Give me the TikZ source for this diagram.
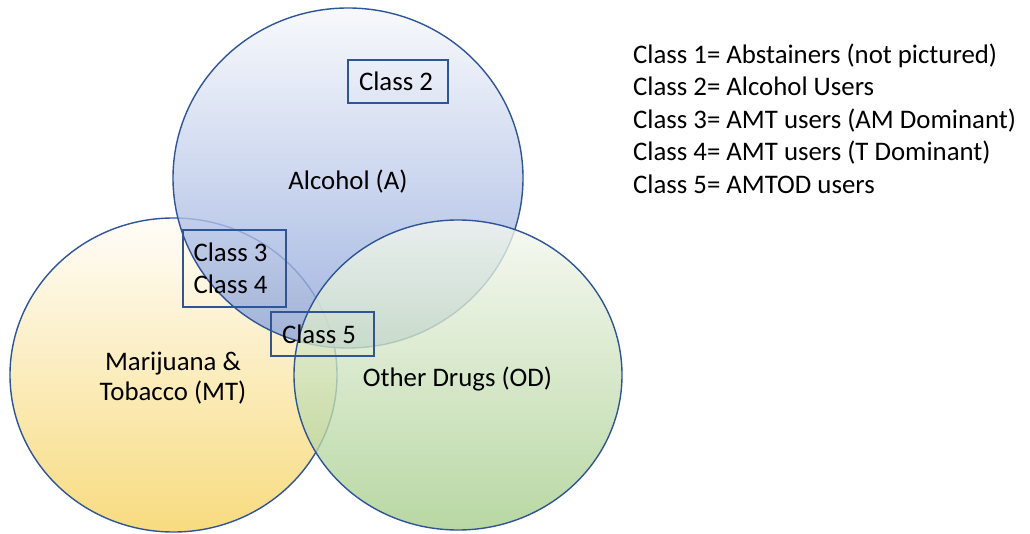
\documentclass[tikz,border=0pt]{standalone}
\usepackage{fontspec}
\setmainfont{Carlito}
\definecolor{edge}{HTML}{2F5597}
\definecolor{atop}{HTML}{F6F8FC}
\definecolor{abot}{HTML}{8AA2DA}
\definecolor{mtop}{HTML}{FFFDF8}
\definecolor{mbot}{HTML}{F7D66A}
\definecolor{otop}{HTML}{F5F8F0}
\definecolor{obot}{HTML}{A5CD8A}
\tikzset{
  circ/.style={draw=edge, line width=1.4pt},
  classbox/.style={draw=edge, line width=1.2pt, inner sep=0pt},
  lbl/.style={font=\fontsize{26.8}{32}\selectfont, text=black, inner sep=0pt},
}
\begin{document}
\begin{tikzpicture}[x=1pt,y=1pt]
\useasboundingbox[fill=white] (0,0) rectangle (1030,533);
% Marijuana & Tobacco
\shade[top color=mtop, bottom color=mbot, fill opacity=0.85] (173.5,158) ellipse [x radius=163.5, y radius=157];
\draw[circ] (173.5,158) ellipse [x radius=163.5, y radius=157];
% Alcohol
\shade[top color=atop, bottom color=abot, fill opacity=0.8] (348,355) ellipse [x radius=175, y radius=170];
\draw[circ] (348,355) ellipse [x radius=175, y radius=170];
% Other drugs
\shade[top color=otop, bottom color=obot, fill opacity=0.78] (458,158) ellipse [x radius=164, y radius=155];
\draw[circ] (458,158) ellipse [x radius=164, y radius=155];
% region labels
\node[lbl, anchor=base] (alc) at (348,343.5) {Alcohol (A)};
\node[lbl, anchor=base] (mt1) at (173,162.5) {Marijuana \&};
\node[lbl, anchor=base] (mt2) at (173,132.5) {Tobacco (MT)};
\node[lbl, anchor=base] (od) at (457.5,146.5) {Other Drugs (OD)};
% class boxes
\node[classbox, minimum width=100pt, minimum height=43pt] (b2) at (398,451.5) {};
\node[classbox, minimum width=103pt, minimum height=77pt] (b34) at (234.5,264.5) {};
\node[classbox, minimum width=103pt, minimum height=44pt] (b5) at (322.5,199) {};
\node[lbl, anchor=base] (c2) at (396,442.5) {Class 2};
\node[lbl, anchor=base] (c3) at (230.5,271.5) {Class 3};
\node[lbl, anchor=base] (c4) at (230.5,239.5) {Class 4};
\node[lbl, anchor=base] (c5) at (319,189.5) {Class 5};
% legend
\node[lbl, anchor=base west] (l1) at (633,469.5) {Class 1= Abstainers (not pictured)};
\node[lbl, anchor=base west] (l2) at (633,437) {Class 2= Alcohol Users};
\node[lbl, anchor=base west] (l3) at (633,404.5) {Class 3= AMT users (AM Dominant)};
\node[lbl, anchor=base west] (l4) at (633,372) {Class 4= AMT users (T Dominant)};
\node[lbl, anchor=base west] (l5) at (633,339.5) {Class 5= AMTOD users};
\end{tikzpicture}
\end{document}
